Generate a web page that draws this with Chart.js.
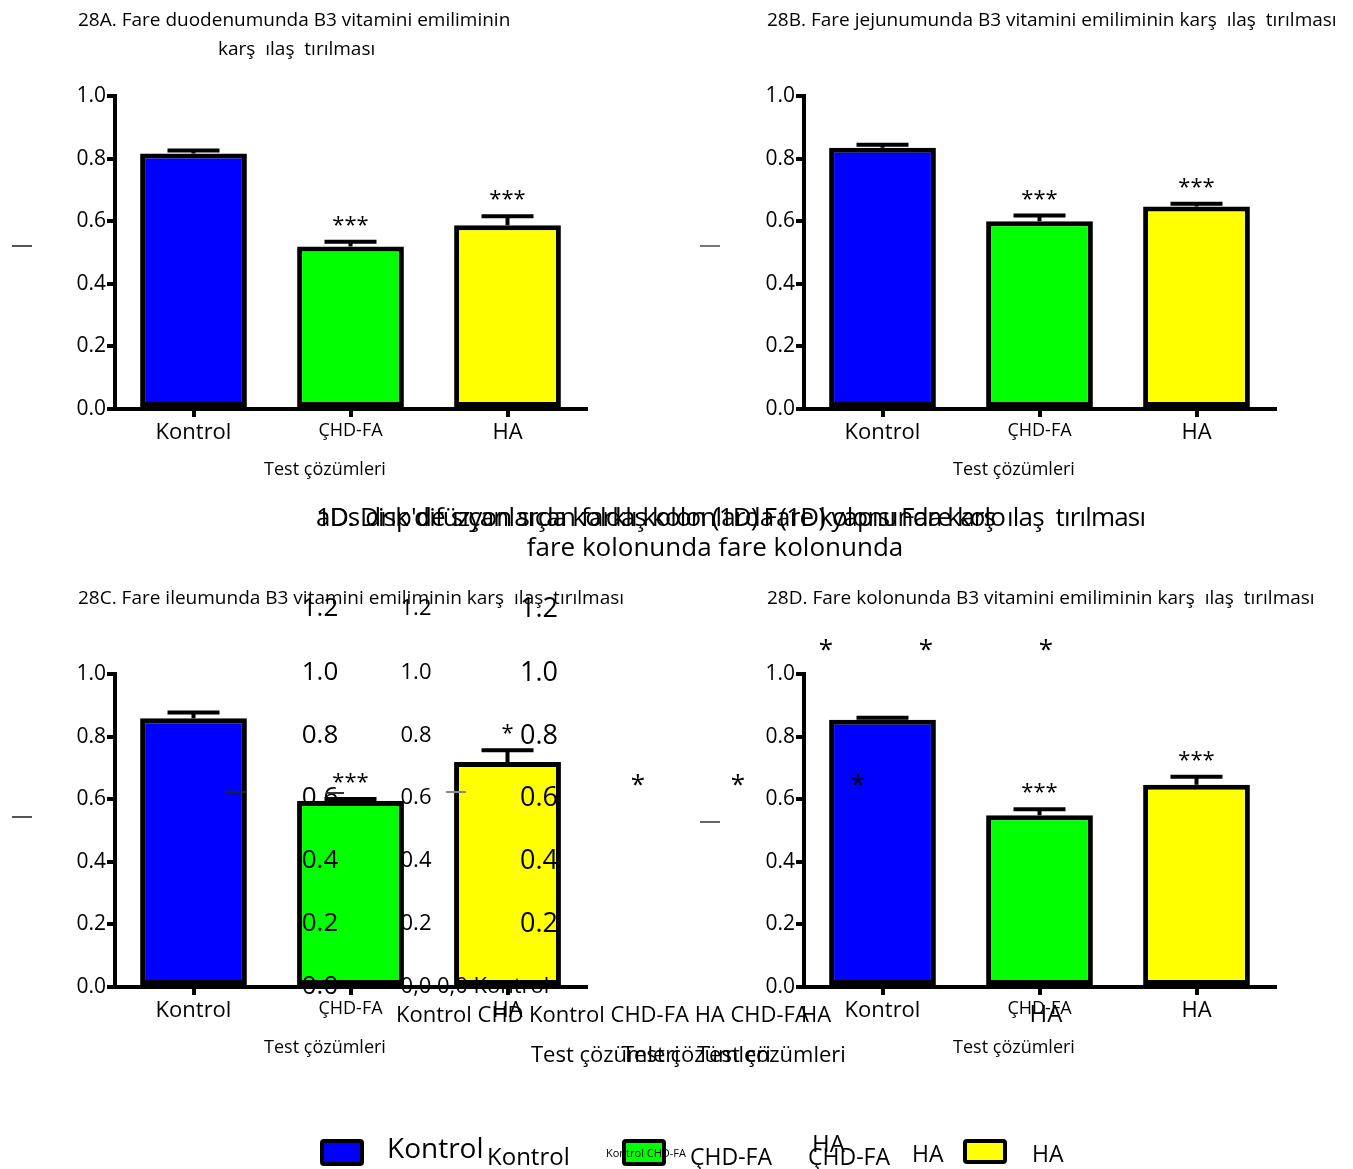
<!DOCTYPE html>
<html lang="tr">
<head>
<meta charset="utf-8">
<title>B3 vitamini emilimi</title>
<script src="https://cdn.jsdelivr.net/npm/chart.js@4.4.1/dist/chart.umd.min.js"></script>
<style>
  html, body { margin: 0; padding: 0; background: #fff; }
  #page { position: relative; width: 1353px; height: 1169px; overflow: hidden; background: #fff; }
  canvas { position: absolute; }
  #layer { position: absolute; left: 0; top: 0; width: 1353px; height: 1169px; pointer-events: none; z-index: 5; }
  .t { position: absolute; white-space: pre; line-height: 1; color: #000; font-family: "Open Sans", "Noto Sans", sans-serif; }
  .sw { position: absolute; box-sizing: border-box; border: 4px solid #000; border-radius: 4px; }
  .dash { position: absolute; height: 2px; }
</style>
</head>
<body>
<div id="page">
  <canvas id="chartA" width="676" height="440"></canvas>
  <canvas id="chartB" width="673" height="440"></canvas>
  <canvas id="chartC" width="676" height="440"></canvas>
  <canvas id="chartD" width="673" height="440"></canvas>
  <div id="layer"></div>
</div>
<script>
// ---- data ----
const categories = ['Kontrol', 'ÇHD-FA', 'HA'];
const barColors = ['#0000ff', '#00ff00', '#ffff00'];

const duodenumMeans = [0.816, 0.519, 0.587];
const duodenumSem   = [0.010, 0.015, 0.029];
const duodenumSig   = ['', '***', '***'];

const jejunumMeans = [0.835, 0.600, 0.647];
const jejunumSem   = [0.009, 0.018, 0.009];
const jejunumSig   = ['', '***', '***'];

const ileumMeans = [0.859, 0.594, 0.719];
const ileumSem   = [0.018, 0.007, 0.037];
const ileumSig   = ['', '***', '*'];

const kolonMeans = [0.854, 0.549, 0.646];
const kolonSem   = [0.006, 0.019, 0.026];
const kolonSig   = ['', '***', '***'];

const yMin = 0, yMax = 1.0, yStep = 0.2;
const axisTitle = 'Test çözümleri';

// secondary axis labels printed over the ileum panel
const extraTickLabels = ['1.2', '1.0', '0.8', '0.6', '0.4', '0.2', '0.0'];
const extraTickLabelsComma = ['1.2', '1.0', '0.8', '0.6', '0.4', '0.2', '0,0'];

// ---- error bars and significance marks ----
const errorBarPlugin = {
  id: 'errorBarPlugin',
  afterDatasetsDraw(chart) {
    const { ctx } = chart;
    const y = chart.scales.y;
    const ds = chart.data.datasets[0];
    const meta = chart.getDatasetMeta(0);
    ctx.save();
    meta.data.forEach((bar, i) => {
      const v = ds.data[i];
      const top = y.getPixelForValue(v);
      const cap = y.getPixelForValue(v + ds.sem[i]);
      ctx.strokeStyle = '#000';
      ctx.lineWidth = 4;
      ctx.lineCap = 'butt';
      ctx.beginPath();
      ctx.moveTo(bar.x, top);
      ctx.lineTo(bar.x, cap);
      ctx.moveTo(bar.x - 26, cap);
      ctx.lineTo(bar.x + 26, cap);
      ctx.stroke();
      if (ds.sig[i]) {
        ctx.fillStyle = '#000';
        ctx.font = '22px "Open Sans"';
        ctx.textAlign = 'center';
        ctx.textBaseline = 'alphabetic';
        ctx.fillText(ds.sig[i], bar.x, cap - 10);
      }
    });
    ctx.restore();
  }
};

function makePanel(id, pos, area, means, sem, sig) {
  const cv = document.getElementById(id);
  cv.style.left = pos.left + 'px';
  cv.style.top = pos.top + 'px';
  const xH = 50;
  const yW = area.l - pos.left;
  return new Chart(cv, {
    type: 'bar',
    data: {
      labels: categories,
      datasets: [{
        data: means,
        sem: sem,
        sig: sig,
        backgroundColor: barColors,
        borderColor: '#000',
        borderWidth: 5,
        borderSkipped: false,
        barPercentage: 0.68,
        categoryPercentage: 1.0
      }]
    },
    options: {
      responsive: false,
      devicePixelRatio: 1,
      animation: false,
      events: [],
      layout: {
        padding: {
          left: 0,
          top: area.t - pos.top,
          right: pos.left + cv.width - area.r,
          bottom: pos.top + cv.height - area.b - xH
        }
      },
      plugins: { legend: { display: false }, tooltip: { enabled: false }, title: { display: false } },
      scales: {
        x: {
          offset: true,
          afterFit: s => { s.height = xH; },
          grid: { display: true, drawOnChartArea: false, drawTicks: true, tickLength: 8, offset: false, color: '#000', lineWidth: 4, tickWidth: 4 },
          border: { display: true, color: '#000', width: 4 },
          ticks: {
            color: '#000',
            padding: 3,
            maxRotation: 0,
            autoSkip: false,
            font: c => ({ family: 'Open Sans', size: c.index === 1 ? 18 : 22 })
          }
        },
        y: {
          min: yMin,
          max: yMax,
          afterFit: s => { s.width = yW; },
          grid: { display: true, drawOnChartArea: false, drawTicks: true, tickLength: 8, color: '#000', lineWidth: 4, tickWidth: 4 },
          border: { display: true, color: '#000', width: 4 },
          ticks: {
            stepSize: yStep,
            color: '#000',
            padding: 1,
            font: { family: 'Open Sans', size: 21 },
            callback: v => Number(v).toFixed(1)
          }
        }
      }
    },
    plugins: [errorBarPlugin]
  });
}

// ---- text layer ----
const layer = document.getElementById('layer');
function put(str, x, y, size, anchor, opts) {
  opts = opts || {};
  const d = document.createElement('div');
  d.className = 't';
  d.textContent = str;
  d.style.fontSize = size + 'px';
  d.style.left = x + 'px';
  d.style.top = y + 'px';
  const tx = anchor === 'c' ? '-50%' : anchor === 'r' ? '-100%' : '0';
  d.style.transform = 'translate(' + tx + ',-50%)';
  if (opts.color) d.style.color = opts.color;
  layer.appendChild(d);
  if (opts.fit) {
    const natural = d.getBoundingClientRect().width;
    const n = Math.max(1, str.length - 1);
    d.style.letterSpacing = ((opts.fit - natural) / n) + 'px';
  }
  return d;
}
function dash(x, y, w, color) {
  const d = document.createElement('div');
  d.className = 'dash';
  d.style.left = x + 'px';
  d.style.top = y + 'px';
  d.style.width = w + 'px';
  d.style.background = color;
  layer.appendChild(d);
}
function swatch(x, y, w, h, fill) {
  const d = document.createElement('div');
  d.className = 'sw';
  d.style.left = x + 'px';
  d.style.top = y + 'px';
  d.style.width = w + 'px';
  d.style.height = h + 'px';
  d.style.background = fill;
  layer.appendChild(d);
}

function drawText() {
  // panel titles
  put('28A. Fare duodenumunda B3 vitamini emiliminin', 78, 19, 19, 'l');
  put('karş  ılaş  tırılması', 218, 48, 19, 'l');
  put('28B. Fare jejunumunda B3 vitamini emiliminin karş  ılaş  tırılması', 767, 19, 19, 'l');
  put('28C. Fare ileumunda B3 vitamini emiliminin karş  ılaş  tırılması', 78, 597, 19, 'l');
  put('28D. Fare kolonunda B3 vitamini emiliminin karş  ılaş  tırılması', 767, 597, 19, 'l');

  // x-axis titles
  put(axisTitle, 325, 468, 18, 'c');
  put(axisTitle, 1014, 468, 18, 'c');
  put(axisTitle, 325, 1046, 18, 'c');
  put(axisTitle, 1014, 1046, 18, 'c');

  // heading between the two rows (overprinted)
  put('1D. Disk difüzyon sıçan farklı kolon (1D) Fare kolonunda karş  ılaş  tırılması', 316, 516, 26, 'l', { fit: 830 });
  put('aDs drıp\'de sıçanlarda koldaş kolonlarda (1D) yapısı Fare kolo', 316, 516, 26, 'l', { fit: 690 });
  put('fare kolonunda fare kolonunda', 715, 546, 26, 'c');

  // secondary axis columns over panel C
  const rowsY = [606, 670, 733, 795, 858, 921, 984];
  extraTickLabels.forEach((s, i) => put(s, 320, rowsY[i], 26, 'c'));
  extraTickLabelsComma.forEach((s, i) => put(s, 416, rowsY[i], 22, 'c'));
  extraTickLabels.slice(0, 6).forEach((s, i) => put(s, 539, rowsY[i], 27, 'c'));
  put('0,0 Kontrol', 437, 984, 22, 'l');

  // overprinted category row and axis titles
  put('Kontrol CHD', 396, 1013, 22, 'l');
  put('Kontrol CHD-FA HA CHD-FA', 529, 1013, 22, 'l');
  put('HA', 801, 1013, 22, 'l');
  put('HA', 1046, 1013, 24, 'c');
  put(axisTitle, 531, 1053, 22, 'l');
  put(axisTitle, 622, 1053, 22, 'l');
  put(axisTitle, 697, 1053, 22, 'l');

  // loose asterisks
  [[826, 648], [926, 648], [1046, 648], [638, 783], [738, 783], [858, 783]].forEach(p => put('*', p[0], p[1], 26, 'c'));

  // stray rule marks
  dash(12, 245, 20, '#555');
  dash(700, 245, 20, '#777');
  dash(12, 816, 20, '#555');
  dash(700, 821, 20, '#666');
  dash(226, 791, 20, '#222');
  dash(326, 792, 18, '#333');
  dash(446, 791, 20, '#888');

  // legend
  swatch(320, 1139, 44, 27, barColors[0]);
  put('Kontrol', 387, 1147, 28, 'l');
  put('Kontrol', 487, 1156, 24, 'l');
  swatch(622, 1139, 44, 27, barColors[1]);
  put('Kontrol CHD-FA', 606, 1152, 11, 'l');
  put('ÇHD-FA', 690, 1156, 23, 'l');
  put('HA', 812, 1143, 24, 'l');
  put('ÇHD-FA', 808, 1156, 23, 'l');
  put('HA', 912, 1153, 23, 'l');
  swatch(963, 1139, 44, 25, barColors[2]);
  put('HA', 1032, 1153, 23, 'l');
}

function draw() {
  Chart.defaults.font.family = '"Open Sans"';
  Chart.defaults.color = '#000';
  makePanel('chartA', { left: 0, top: 60 },   { l: 115, t: 96,  r: 586,  b: 409 }, duodenumMeans, duodenumSem, duodenumSig);
  makePanel('chartB', { left: 680, top: 60 }, { l: 804, t: 96,  r: 1275, b: 409 }, jejunumMeans, jejunumSem, jejunumSig);
  makePanel('chartC', { left: 0, top: 640 },  { l: 115, t: 674, r: 586,  b: 987 }, ileumMeans, ileumSem, ileumSig);
  makePanel('chartD', { left: 680, top: 640 },{ l: 804, t: 674, r: 1275, b: 987 }, kolonMeans, kolonSem, kolonSig);
  drawText();
}

if (document.fonts && document.fonts.load) {
  Promise.all([
    document.fonts.load('22px "Open Sans"'),
    document.fonts.load('17px "Open Sans"')
  ]).then(draw, draw);
} else {
  draw();
}
</script>
</body>
</html>
